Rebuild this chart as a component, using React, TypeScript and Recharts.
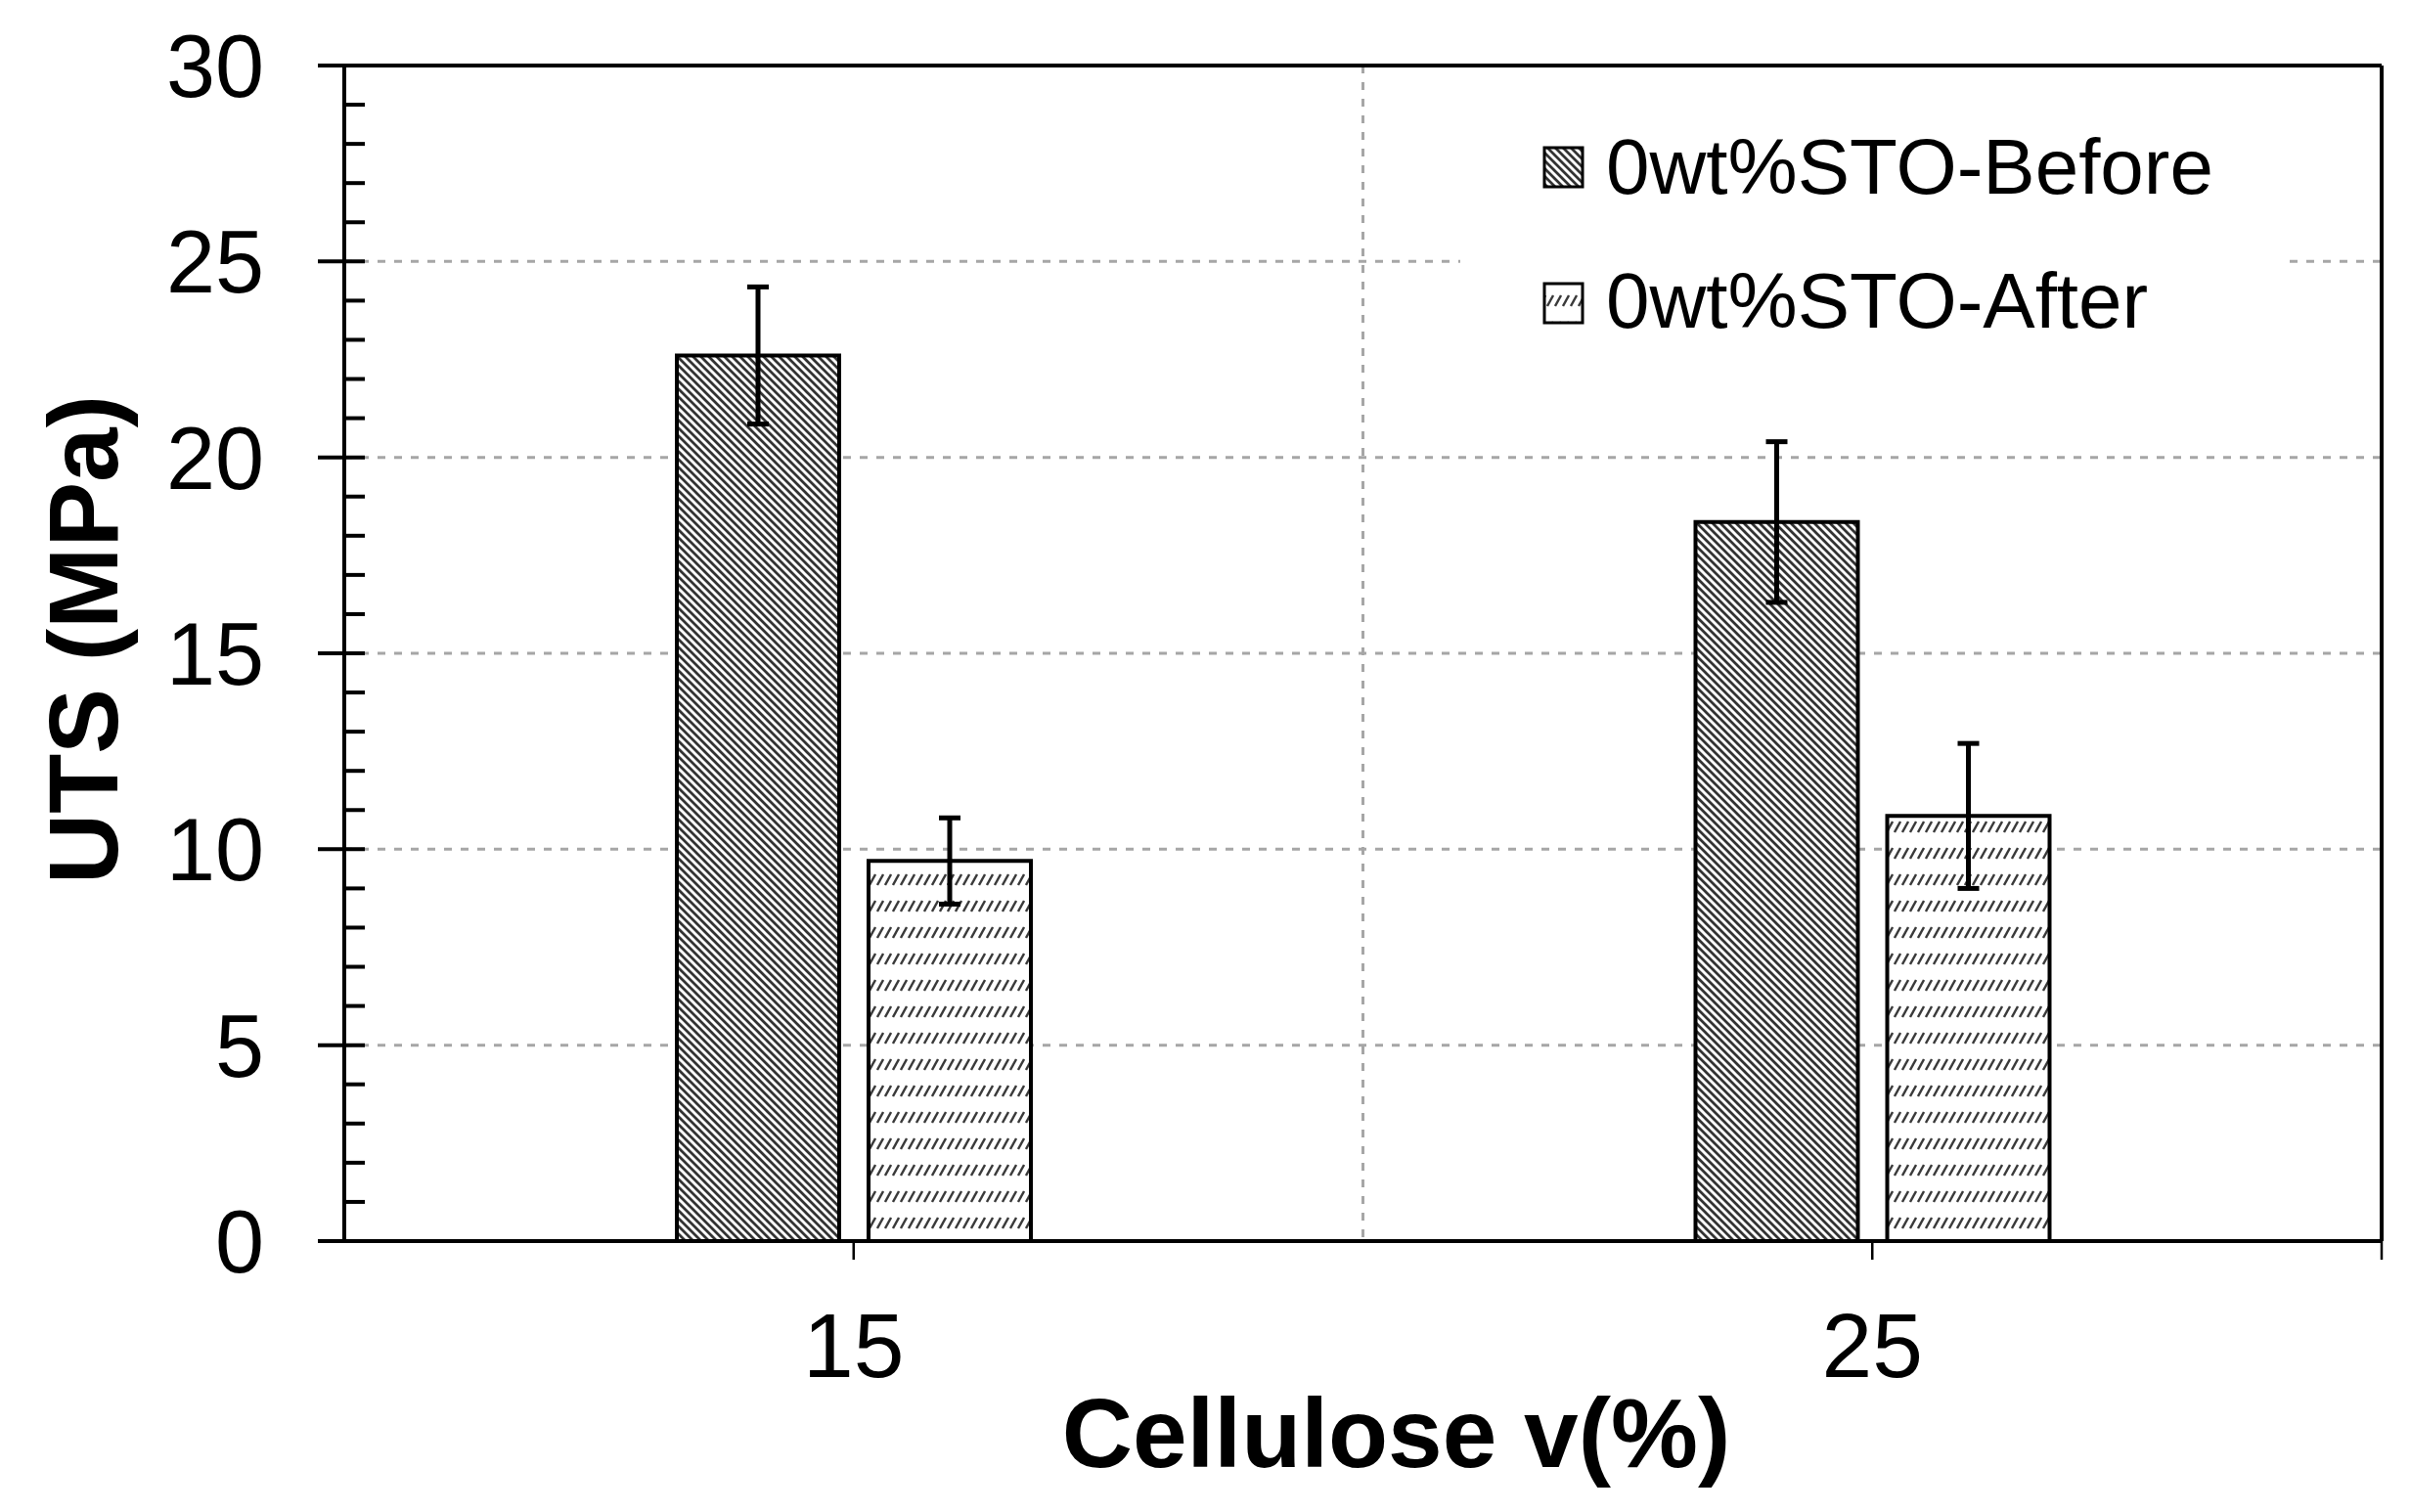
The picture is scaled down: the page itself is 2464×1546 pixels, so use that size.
import {
  BarChart,
  Bar,
  XAxis,
  YAxis,
  CartesianGrid,
  ErrorBar,
  Legend,
  ReferenceLine,
} from "recharts";

const FONT = '"Liberation Sans", Arial, Helvetica, sans-serif';

// cellulose content (v%) on the x axis
const categories = [15, 25];
const beforeValues = [22.6, 18.35];
const beforeErrors = [1.75, 2.05];
const afterValues = [9.7, 10.85];
const afterErrors = [1.1, 1.85];

const seriesNames = ["0wt%STO-Before", "0wt%STO-After"];

const xTicks = [15, 25, 30];
const yTicks = [
  0, 1, 2, 3, 4, 5, 6, 7, 8, 9, 10, 11, 12, 13, 14, 15, 16, 17, 18, 19, 20, 21,
  22, 23, 24, 25, 26, 27, 28, 29, 30,
];
const yMajorTicks = [0, 5, 10, 15, 20, 25, 30];
const gridY = [5, 10, 15, 20, 25];
const gridX = [20];

const data = categories.map((c, i) => ({
  cellulose: c,
  before: beforeValues[i],
  beforeErr: beforeErrors[i],
  after: afterValues[i],
  afterErr: afterErrors[i],
}));

function YTick(props: any) {
  const { x, y, payload } = props;
  const major = yMajorTicks.includes(payload.value);
  return (
    <g>
      <line
        x1={major ? x - 27 : x}
        x2={x + 21}
        y1={y}
        y2={y}
        stroke="#000"
        strokeWidth={4}
      />
      {major && (
        <text
          x={x - 82}
          y={y}
          dy="0.355em"
          textAnchor="end"
          fontSize={90}
          fontFamily={FONT}
          fill="#000"
        >
          {payload.value}
        </text>
      )}
    </g>
  );
}

function renderLegend(props: any) {
  // keep the series order, recharts sorts legend items by name
  const items = [...(props.payload || [])].sort(
    (a: any, b: any) =>
      seriesNames.indexOf(a.value) - seriesNames.indexOf(b.value)
  );
  return (
    <svg width={848} height={260} style={{ display: "block" }}>
      {items.map((entry: any, i: number) => (
        <g key={entry.value}>
          <rect
            x={86}
            y={41 + i * 139}
            width={39}
            height={40}
            fill={entry.color}
            stroke="#000"
            strokeWidth={3}
          />
          <text
            x={149}
            y={88 + i * 137}
            fontSize={80}
            fontFamily={FONT}
            fill="#000"
          >
            {entry.value}
          </text>
        </g>
      ))}
    </svg>
  );
}

export default function App() {
  return (
    <div
      style={{
        position: "absolute",
        left: 0,
        top: 0,
        width: 2464,
        height: 1546,
        background: "#fff",
      }}
    >
      <BarChart
        width={2464}
        height={1546}
        data={data}
        margin={{ top: 67, right: 29, bottom: 0, left: 0 }}
        barGap={30}
        style={{ fontFamily: FONT }}
      >
        <defs>
          <pattern
            id="hatchBefore"
            patternUnits="userSpaceOnUse"
            width="8"
            height="8"
          >
            <rect width="8" height="8" fill="#fff" />
            <path
              d="M-2,6 L2,10 M0,0 L8,8 M6,-2 L10,2"
              stroke="#333"
              strokeWidth="2.8"
            />
          </pattern>
          <pattern
            id="hatchAfter"
            patternUnits="userSpaceOnUse"
            width="8"
            height="27"
          >
            <rect width="8" height="27" fill="#fff" />
            <path d="M1,14 L7,3" stroke="#3a3a3a" strokeWidth="2.4" />
          </pattern>
        </defs>

        <CartesianGrid
          horizontalValues={gridY}
          verticalValues={gridX}
          stroke="#a6a6a6"
          strokeWidth={3}
          strokeDasharray="8 9"
        />

        <XAxis
          type="number"
          dataKey="cellulose"
          domain={[10, 30]}
          ticks={xTicks}
          interval={0}
          tickFormatter={(v) => (v === 30 ? "" : String(v))}
          height={277}
          axisLine={{ stroke: "#000", strokeWidth: 4 }}
          tickLine={{ stroke: "#000", strokeWidth: 2.5 }}
          tickSize={19}
          tickMargin={54}
          tick={{ fill: "#000", fontSize: 93, fontFamily: FONT }}
          label={{
            content: (p: any) => {
              const vb = p.viewBox;
              return (
                <text
                  x={vb.x + vb.width / 2 + 34}
                  y={vb.y + vb.height - 46}
                  textAnchor="middle"
                  fontSize={100}
                  fontWeight="bold"
                  fontFamily={FONT}
                  fill="#000"
                >
                  Cellulose v(%)
                </text>
              );
            },
          }}
        />

        <YAxis
          type="number"
          domain={[0, 30]}
          ticks={yTicks}
          interval={0}
          width={352}
          axisLine={{ stroke: "#000", strokeWidth: 4 }}
          tickLine={false}
          tickSize={0}
          tickMargin={0}
          tick={<YTick />}
          label={{
            content: (p: any) => {
              const vb = p.viewBox;
              const cx = vb.x + 120;
              const cy = vb.y + vb.height / 2 - 14;
              return (
                <text
                  x={cx}
                  y={cy}
                  transform={`rotate(-90, ${cx}, ${cy})`}
                  textAnchor="middle"
                  fontSize={100}
                  fontWeight="bold"
                  fontFamily={FONT}
                  fill="#000"
                >
                  UTS (MPa)
                </text>
              );
            },
          }}
        />

        <ReferenceLine y={30} stroke="#000" strokeWidth={4} />
        <ReferenceLine x={30} stroke="#000" strokeWidth={4} />

        <Legend
          layout="vertical"
          verticalAlign="middle"
          align="center"
          wrapperStyle={{
            position: "absolute",
            left: 1493,
            top: 110,
            width: 848,
            height: 260,
            background: "#fff",
          }}
          content={renderLegend}
        />

        <Bar
          dataKey="before"
          name={seriesNames[0]}
          fill="url(#hatchBefore)"
          stroke="#000"
          strokeWidth={4}
          barSize={166}
          isAnimationActive={false}
        >
          <ErrorBar
            dataKey="beforeErr"
            direction="y"
            width={11}
            stroke="#000"
            strokeWidth={5}
          />
        </Bar>
        <Bar
          dataKey="after"
          name={seriesNames[1]}
          fill="url(#hatchAfter)"
          stroke="#000"
          strokeWidth={4}
          barSize={166}
          isAnimationActive={false}
        >
          <ErrorBar
            dataKey="afterErr"
            direction="y"
            width={11}
            stroke="#000"
            strokeWidth={5}
          />
        </Bar>
      </BarChart>
    </div>
  );
}
